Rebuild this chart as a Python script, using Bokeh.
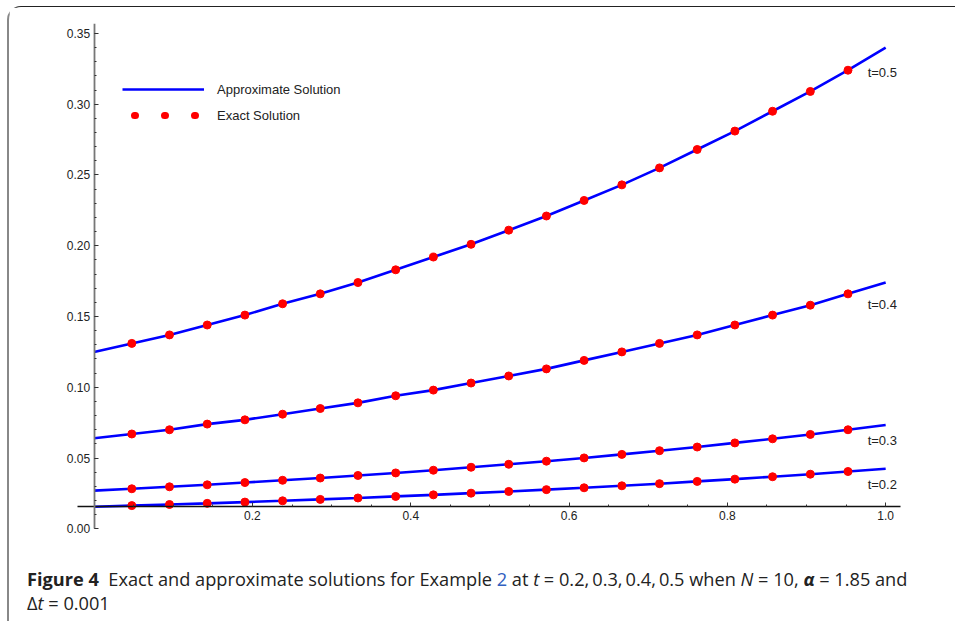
from bokeh.plotting import figure
from bokeh.models import (FixedTicker, NumeralTickFormatter, Legend, LegendItem,
                          Label, Div, Range1d)
from bokeh.layouts import column
from bokeh.embed import file_html
from bokeh.resources import INLINE

# x positions of the sample points (k/21, k = 0..21)
x_vals = [0.0, 0.0476, 0.0952, 0.1429, 0.1905, 0.2381, 0.2857, 0.3333, 0.3810,
          0.4286, 0.4762, 0.5238, 0.5714, 0.6190, 0.6667, 0.7143, 0.7619,
          0.8095, 0.8571, 0.9048, 0.9524, 1.0]

t05 = [0.125, 0.131, 0.137, 0.144, 0.151, 0.159, 0.166, 0.174, 0.183, 0.192,
       0.201, 0.211, 0.221, 0.232, 0.243, 0.255, 0.268, 0.281, 0.295, 0.309,
       0.324, 0.340]
t04 = [0.064, 0.067, 0.070, 0.074, 0.077, 0.081, 0.085, 0.089, 0.094, 0.098,
       0.103, 0.108, 0.113, 0.119, 0.125, 0.131, 0.137, 0.144, 0.151, 0.158,
       0.166, 0.174]
t03 = [0.0270, 0.0283, 0.0297, 0.0311, 0.0327, 0.0343, 0.0359, 0.0377, 0.0395,
       0.0414, 0.0435, 0.0456, 0.0478, 0.0501, 0.0526, 0.0552, 0.0578, 0.0607,
       0.0636, 0.0667, 0.0700, 0.0734]
t02 = [0.0156, 0.0164, 0.0172, 0.0180, 0.0189, 0.0198, 0.0208, 0.0218, 0.0229,
       0.0240, 0.0252, 0.0264, 0.0277, 0.0290, 0.0304, 0.0319, 0.0335, 0.0351,
       0.0368, 0.0386, 0.0405, 0.0425]

series = [t05, t04, t03, t02]
series_labels = ["t=0.5", "t=0.4", "t=0.3", "t=0.2"]
label_drop_px = [25, 22, 16, 16]

x_ticks = [0.2, 0.4, 0.6, 0.8, 1.0]
x_minor = [0.05, 0.1, 0.15, 0.25, 0.3, 0.35, 0.45, 0.5, 0.55, 0.65, 0.7, 0.75,
           0.85, 0.9, 0.95]
y_ticks = [0.0, 0.05, 0.10, 0.15, 0.20, 0.25, 0.30, 0.35]
y_minor = [i / 100 for i in range(0, 36)]
x_axis_crossing = 0.0155

FONT = "Liberation Sans"
NAN = float("nan")

p = figure(output_backend="svg", toolbar_location=None,
           frame_width=843, frame_height=511,
           min_border_left=49, min_border_top=16, min_border_bottom=12,
           min_border_right=20,
           x_range=Range1d(-0.045, 1.02), y_range=Range1d(-0.004, 0.357))
p.background_fill_color = "white"
p.border_fill_color = "white"
p.outline_line_color = None
p.grid.visible = False

line_renderers = []
dot_renderers = []
for ys in series:
    lr = p.line(x_vals, ys, line_color="#0000ff", line_width=2.6)
    line_renderers.append(lr)
for ys in series:
    dr = p.scatter(x_vals[1:-1], ys[1:-1], size=8, fill_color="#ff0000",
                   line_color="#ff0000")
    dot_renderers.append(dr)

# renderer that draws nothing in the plot; used only for the dotted legend key
legend_dots = p.line([NAN, NAN], [NAN, NAN], line_color="#ff0000", line_width=7,
                     line_cap="round", line_dash="1 29", line_dash_offset=18)

for ys, lab, drop in zip(series, series_labels, label_drop_px):
    p.add_layout(Label(x=x_vals[-1], y=ys[-1], x_offset=-18, y_offset=-drop,
                       text=lab, text_font=FONT, text_font_size="13px",
                       text_color="#222222", text_baseline="middle"))

# axes (Mathematica style, crossing inside the plot)
xa = p.xaxis[0]
xa.fixed_location = x_axis_crossing
xa.ticker = FixedTicker(ticks=x_ticks, minor_ticks=x_minor)
xa.formatter = NumeralTickFormatter(format="0.0")
xa.bounds = (-0.0206, 1.019)
ya = p.yaxis[0]
ya.fixed_location = 0
ya.ticker = FixedTicker(ticks=y_ticks, minor_ticks=y_minor)
ya.formatter = NumeralTickFormatter(format="0.00")
ya.bounds = (0, 0.357)

for ax, col in ((xa, "#111111"), (ya, "#777777")):
    ax.axis_line_color = col
    ax.axis_line_width = 1.3 if ax is xa else 1.8
    ax.major_tick_in = 4
    ax.major_tick_out = 0
    ax.minor_tick_in = 2
    ax.minor_tick_out = 0
    ax.major_tick_line_color = "#333333"
    ax.minor_tick_line_color = "#333333"
    ax.major_label_text_font = FONT
    ax.major_label_text_font_size = "12px"
    ax.major_label_text_color = "#222222"
    ax.major_label_standoff = 4

legend = Legend(items=[LegendItem(label="Approximate Solution", renderers=[line_renderers[0]]),
                       LegendItem(label="Exact Solution", renderers=[legend_dots])],
                location=(64, 409), orientation="vertical",
                glyph_width=82, glyph_height=20, label_height=20,
                label_standoff=13, spacing=6, padding=0, margin=0,
                border_line_color=None, background_fill_alpha=0,
                label_text_font=FONT, label_text_font_size="13px",
                label_text_color="#222222")
p.add_layout(legend)

caption = Div(
    text=('<b style="font-weight:700">Figure 4</b>&nbsp; Exact and approximate solutions for Example '
          '<span style="color:#3060c0">2</span> at <i>t</i> = 0.2,&thinsp;0.3,&thinsp;0.4,&thinsp;0.5 when '
          '<i>N</i> = 10, <b><i>&alpha;</i></b> = 1.85 and<br>&Delta;<i>t</i> = 0.001'),
    width=945,
    styles={"font-family": "'Open Sans', sans-serif", "font-size": "18.2px",
            "line-height": "24px", "color": "#222222",
            "padding-left": "13px", "margin-top": "21px", "padding-bottom": "6px"})

layout = column(p, caption,
                styles={"border-top": "1.5px solid #222222",
                        "border-left": "2px solid #888888",
                        "border-top-left-radius": "14px",
                        "margin-top": "6px", "margin-left": "7px"})

open("out.html", "w").write(file_html(layout, INLINE))
